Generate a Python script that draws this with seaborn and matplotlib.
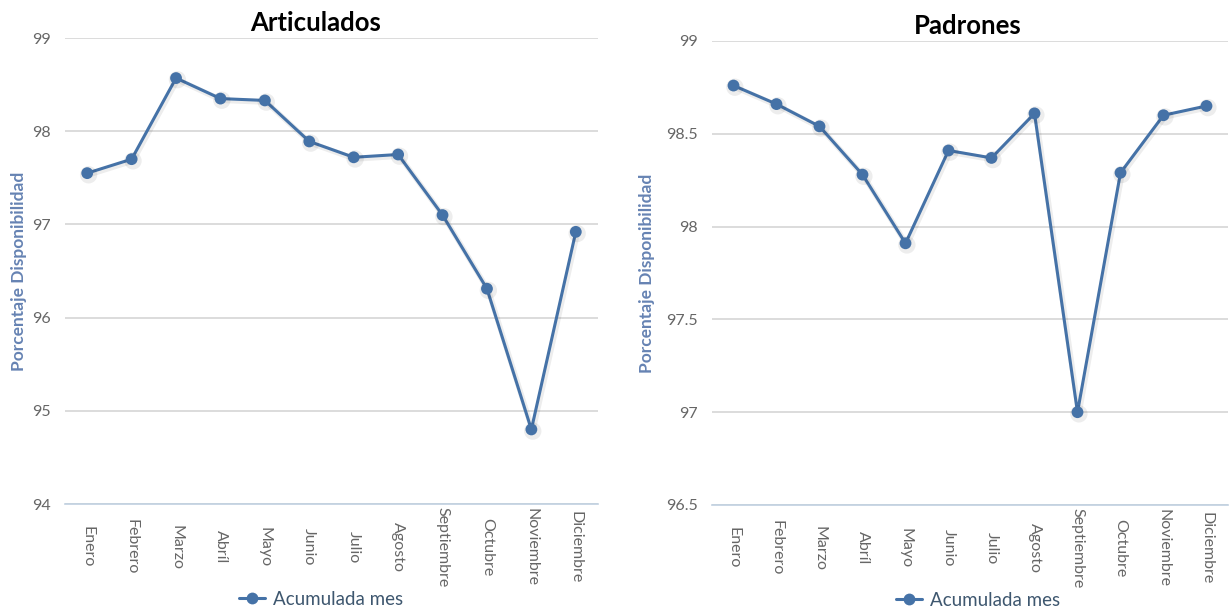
import matplotlib
matplotlib.use("Agg")
import matplotlib.pyplot as plt
import matplotlib.patheffects as pe
from matplotlib.lines import Line2D
import numpy as np
import pandas as pd
import seaborn as sns

meses = ["Enero", "Febrero", "Marzo", "Abríl", "Mayo", "Junio", "Julio",
         "Agosto", "Septiembre", "Octubre", "Noviembre", "Diciembre"]
articulados = [97.55, 97.70, 98.57, 98.35, 98.33, 97.89, 97.72, 97.75,
               97.10, 96.31, 94.80, 96.92]
padrones = [98.76, 98.66, 98.54, 98.28, 97.91, 98.41, 98.37, 98.61,
            97.00, 98.29, 98.60, 98.65]

ticks_art = [94, 95, 96, 97, 98, 99]
ticks_pad = [96.5, 97, 97.5, 98, 98.5, 99]
labels_art = ["94", "95", "96", "97", "98", "99"]
labels_pad = ["96.5", "97", "97.5", "98", "98.5", "99"]

serie = "Acumulada mes"
eje_y = "Porcentaje Disponibilidad"

sns.set_style("white")
plt.rcParams["font.family"] = ["Lato", "DejaVu Sans"]

LINE = "#4572A7"
GRID = "#d6d6d6"
AXIS = "#c0d0e0"
TICKTXT = "#666666"
YLAB = "#6683b3"
LEGTXT = "#3E576F"

fig = plt.figure(figsize=(12.31, 6.09), dpi=100)
ax1 = fig.add_axes([65 / 1231, 1 - 504 / 609, 533 / 1231, 466 / 609])
ax2 = fig.add_axes([712 / 1231, 1 - 505 / 609, 516 / 1231, 464 / 609])

# (axes, title, values, y ticks, y tick labels, y range,
#  title x, legend x, y-label pad)
panels = [
    (ax1, "Articulados", articulados, ticks_art, labels_art, (94, 99),
     0.471, 0.480, 3.5),
    (ax2, "Padrones", padrones, ticks_pad, labels_pad, (96.5, 99),
     0.496, 0.515, 8),
]

for ax, titulo, valores, yt, yl, ylim, tx, lx, lpad in panels:
    df = pd.DataFrame({"mes": meses, "valor": valores})
    sns.lineplot(data=df, x="mes", y="valor", ax=ax, color=LINE,
                 linewidth=2.2, marker="o", markersize=8.5,
                 markeredgewidth=0, sort=False,
                 path_effects=[pe.SimpleLineShadow(offset=(1, -1.2),
                                                   shadow_color="#000000",
                                                   alpha=0.07, linewidth=4),
                               pe.Normal()])
    ax.set_xlim(-0.5, 11.5)
    ax.set_ylim(*ylim)
    ax.set_yticks(yt)
    ax.set_yticklabels(yl)
    ax.yaxis.grid(True, color=GRID, linewidth=1.2)
    ax.set_axisbelow(True)

    for s in ["top", "right", "left"]:
        ax.spines[s].set_visible(False)
    ax.spines["bottom"].set_color(AXIS)
    ax.spines["bottom"].set_linewidth(1.2)

    ax.set_xticks(range(len(meses)))
    ax.set_xticklabels(meses, rotation=-90, va="center", ha="center")
    ax.set_xticks(np.arange(-0.5, 12, 1), minor=True)
    ax.tick_params(axis="x", which="major", length=0, pad=31,
                   labelsize=11.5, labelcolor=TICKTXT)
    ax.tick_params(axis="x", which="minor", length=6, width=1.2,
                   color=AXIS, direction="out")
    ax.tick_params(axis="y", length=0, pad=10, labelsize=11.5,
                   labelcolor=TICKTXT)

    ax.set_xlabel("")
    ax.set_ylabel(eje_y, color=YLAB, fontsize=12.5, fontweight="bold",
                  labelpad=lpad)
    ax.set_title(titulo, fontsize=18.5, fontweight="bold", color="black",
                 x=tx, pad=5)

    h = Line2D([], [], color=LINE, linewidth=2.2, marker="o",
               markersize=8.5, markeredgewidth=0)
    leg = ax.legend([h], [serie], loc="center",
                    bbox_to_anchor=(lx, -0.205), frameon=False,
                    fontsize=13.5, handlelength=1.4, handletextpad=0.4)
    for t in leg.get_texts():
        t.set_color(LEGTXT)

fig.savefig("out.png", dpi=100, facecolor="white")
